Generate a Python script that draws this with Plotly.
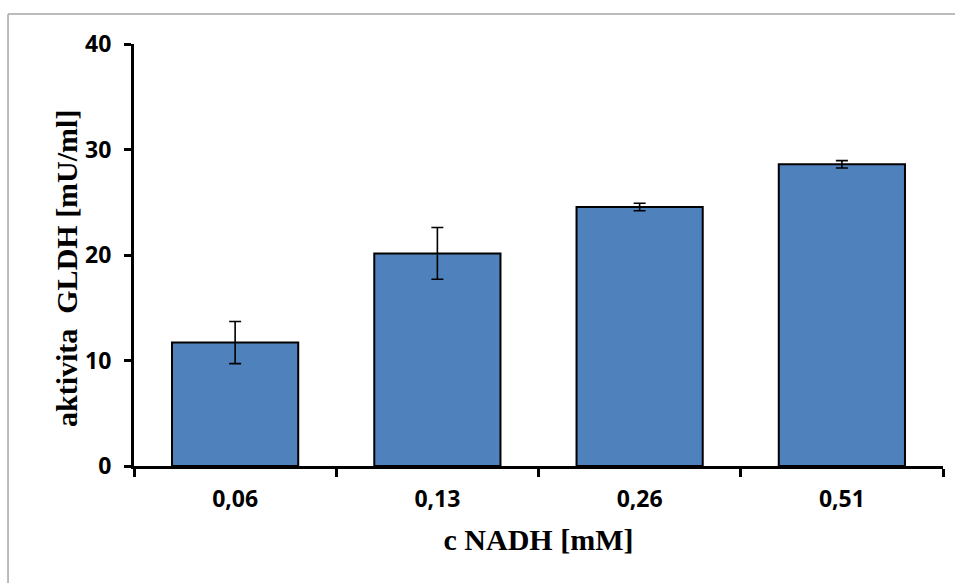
import plotly.graph_objects as go

categories = ["0,06", "0,13", "0,26", "0,51"]
activity = [11.7, 20.15, 24.55, 28.6]
errors = [2.0, 2.45, 0.35, 0.35]
y_ticks = [0, 10, 20, 30, 40]

fig = go.Figure()
fig.add_trace(go.Bar(
    x=categories,
    y=activity,
    marker=dict(color="#4F81BD", line=dict(color="black", width=2)),
    error_y=dict(type="data", array=errors, visible=True,
                 color="black", thickness=1.6, width=6),
))

tick_font = dict(family="Open Sans", size=23, color="black")
title_font = dict(family="Liberation Serif", size=30, color="black", weight="bold")

fig.update_layout(
    width=955, height=583,
    margin=dict(l=134, r=12, t=44, b=117, autoexpand=False),
    paper_bgcolor="white", plot_bgcolor="white",
    bargap=0.376,
    showlegend=False,
    xaxis=dict(
        type="category",
        tickvals=categories,
        ticktext=["<b>%s</b>" % c for c in categories],
        showline=True, linecolor="black", linewidth=3,
        ticks="outside", tickson="boundaries", ticklen=8, tickwidth=3, tickcolor="black",
        tickfont=tick_font, ticklabelstandoff=10,
        showgrid=False, zeroline=False,
        title=dict(text="<b>c NADH [mM]</b>", font=title_font, standoff=17),
        automargin=False,
    ),
    yaxis=dict(
        range=[0, 40],
        tickvals=y_ticks,
        ticktext=["<b>%d</b>" % v for v in y_ticks],
        showline=True, linecolor="black", linewidth=3,
        ticks="outside", ticklen=7, tickwidth=3, tickcolor="black",
        tickfont=tick_font, ticklabelstandoff=8,
        showgrid=False, zeroline=False,
        automargin=False,
    ),
)

# y-axis title (placed as rotated text to match the original's offset)
fig.add_annotation(
    text="<b>aktivita  GLDH [mU/ml]</b>", textangle=-90,
    xref="paper", yref="paper", x=-0.0841, y=0.469,
    xanchor="center", yanchor="middle", showarrow=False,
    font=title_font,
)

# outer chart-area frame (gray, partially visible)
frame = dict(type="line", xref="paper", yref="paper",
             line=dict(color="#A6A6A6", width=1.5), layer="below")
fig.add_shape(**frame, x0=-0.1557, x1=1.2, y0=1.0711, y1=1.0711)
fig.add_shape(**frame, x0=-0.1557, x1=-0.1557, y0=1.0711, y1=-0.4)

fig.write_html("out.html")
